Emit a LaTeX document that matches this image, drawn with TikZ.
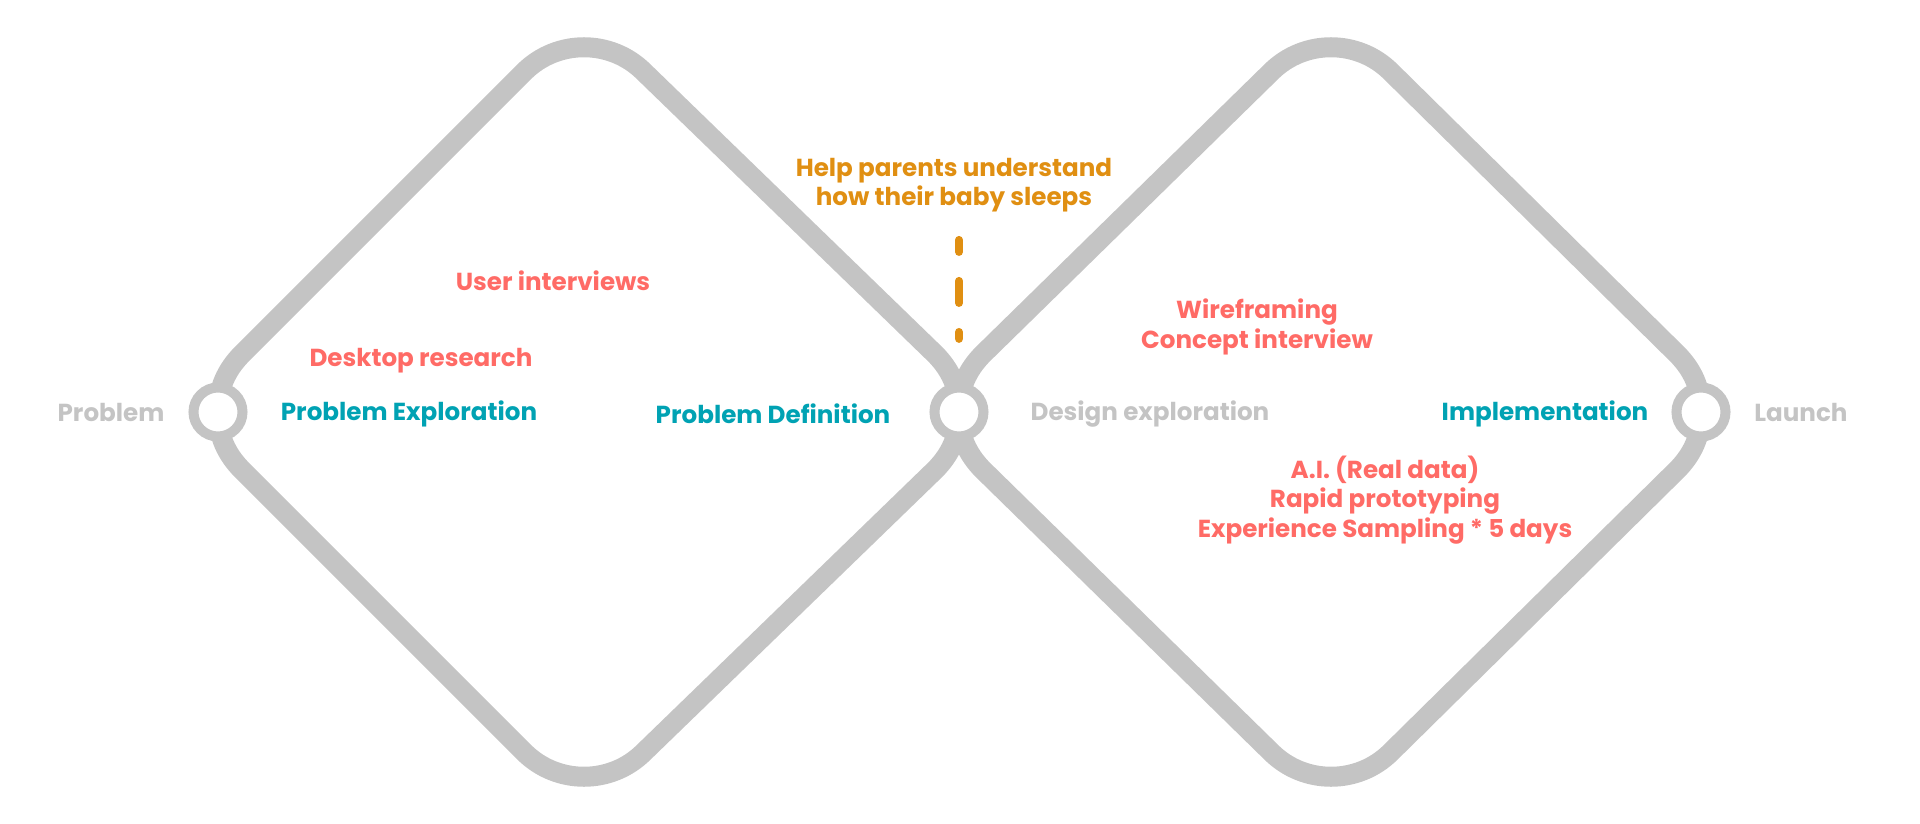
\documentclass[tikz,border=0pt]{standalone}
\usepackage{fontspec}
\setmainfont{Poppins}
\definecolor{linegray}{HTML}{C4C4C4}
\definecolor{teal}{HTML}{00A2B3}
\definecolor{coral}{HTML}{FF6B66}
\definecolor{amber}{HTML}{E08F12}
\newcommand\diamondloop[3]{%
  \draw[frame] (#1,412) -- (#1,410) .. controls (#1,389) and ({#1+8},370) .. ({#1+24},354)
    -- ({#2-60},72) .. controls ({#2-27},39) and ({#2+27},39) .. ({#2+60},72)
    -- ({#3-24},354) .. controls ({#3-8},370) and (#3,389) .. (#3,410)
    -- (#3,414) .. controls (#3,435) and ({#3-8},454) .. ({#3-24},470)
    -- ({#2+60},752) .. controls ({#2+27},785) and ({#2-27},785) .. ({#2-60},752)
    -- ({#1+24},470) .. controls ({#1+8},454) and (#1,435) .. (#1,414) -- cycle;}
\begin{document}
\begin{tikzpicture}[x=0.01cm,y=-0.01cm,
  frame/.style={draw=linegray, line width=0.2cm, line join=round},
  hub/.style={circle, draw=linegray, fill=white, line width=0.1cm, minimum size=0.49cm, inner sep=0pt},
  lbl/.style={font=\bfseries\fontsize{7}{8.4}\selectfont, inner sep=0pt, align=center},
  stage/.style={lbl, text=linegray},
  phase/.style={lbl, text=teal},
  method/.style={lbl, text=coral},
  goal/.style={lbl, text=amber},
  dashconn/.style={draw=amber, line width=0.08cm, line cap=round,
    dash pattern=on 3.41pt off 8.25pt on 6.26pt off 8.25pt on 3.41pt off 20pt,
    shorten <=7.7pt, shorten >=12.4pt}]
\useasboundingbox (0,0) rectangle (1920,824);
\diamondloop{218}{584}{959}
\diamondloop{959}{1331}{1701}
\node[hub] (L) at (218,412) {};
\node[hub] (M) at (959,412) {};
\node[hub] (R) at (1701,412) {};
\node[stage] (problem) at (111,412) {Problem};
\node[phase] (pexp) at (409,414) {Problem Exploration};
\node[phase] (pdef) at (773,414) {Problem Definition};
\node[stage] (dexp) at (1150,414) {Design exploration};
\node[phase] (impl) at (1545,414) {Implementation};
\node[stage] (launch) at (1801,412) {Launch};
\node[method] (ui) at (553,281) {User interviews};
\node[method] (dr) at (421,361) {Desktop research};
\node[goal] (help) at (954,185) {Help parents understand\\how their baby sleeps};
\node[method] (wf) at (1257,327) {Wireframing\\Concept interview};
\node[method] (ai) at (1385,500) {A.I. (Real data)\\Rapid prototyping\\Experience Sampling * 5 days};
\draw[dashconn] (help.south -| M) -- (M.north);
\end{tikzpicture}
\end{document}
